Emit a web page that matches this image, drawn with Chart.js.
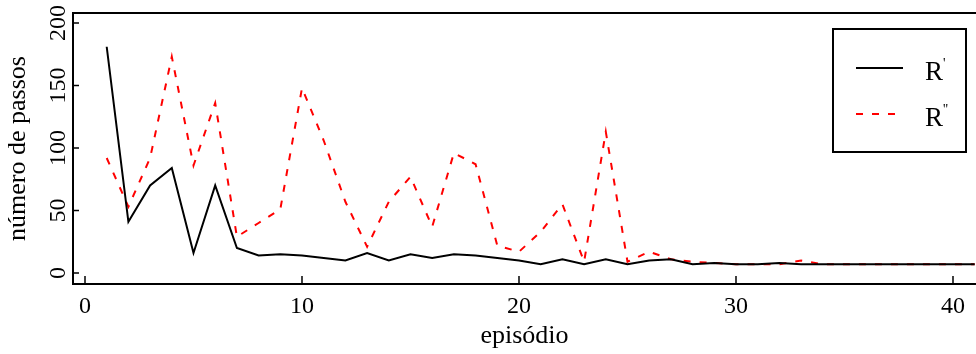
<!DOCTYPE html>
<html>
<head>
<meta charset="utf-8">
<script src="https://cdn.jsdelivr.net/npm/chart.js@4/dist/chart.umd.min.js"></script>
<style>
  html, body { margin: 0; padding: 0; background: #fff; }
  #wrap { width: 976px; height: 354px; }
</style>
</head>
<body>
<div id="wrap"><canvas id="passos-chart" width="976" height="354"></canvas></div>
<script>
// episodes and number of steps for each policy
const episodes = [1, 2, 3, 4, 5, 6, 7, 8, 9, 10,
                  11, 12, 13, 14, 15, 16, 17, 18, 19, 20,
                  21, 22, 23, 24, 25, 26, 27, 28, 29, 30,
                  31, 32, 33, 34, 35, 36, 37, 38, 39, 40, 41];
const stepsR1 = [181, 41, 70, 84, 16, 70, 20, 14, 15, 14,
                 12, 10, 16, 10, 15, 12, 15, 14, 12, 10,
                 7, 11, 7, 11, 7, 10, 11, 7, 8, 7,
                 7, 8, 7, 7, 7, 7, 7, 7, 7, 7, 7];
const stepsR2 = [92, 53, 92, 173, 86, 136, 29, 40, 51, 148,
                 106, 57, 21, 57, 77, 37, 96, 87, 22, 17,
                 33, 55, 9, 113, 9, 17, 11, 9, 8, 7,
                 7, 7, 10, 7, 7, 7, 7, 7, 7, 7, 7];
const seriesLabels = ["R'", "R''"];
const xTicks = [0, 10, 20, 30, 40];
const yTicks = [0, 50, 100, 150, 200];

const serif = '"Liberation Serif", "Times New Roman", serif';

function toPoints(values) {
    return episodes.map((ep, i) => ({ x: ep, y: values[i] }));
}

// frame top line, inward ticks, rotated y labels and the legend box
const framePlugin = {
    id: 'framePlugin',
    afterDraw(chart) {
        const ctx = chart.ctx;
        const area = chart.chartArea;
        const xs = chart.scales.x;
        const ys = chart.scales.y;
        ctx.save();
        ctx.strokeStyle = '#000';
        ctx.lineWidth = 2;
        ctx.beginPath();
        ctx.moveTo(area.left - 1, area.top);
        ctx.lineTo(area.right, area.top);
        ctx.stroke();

        ctx.lineWidth = 1.5;
        xTicks.forEach(v => {
            const px = xs.getPixelForValue(v);
            ctx.beginPath();
            ctx.moveTo(px, area.bottom);
            ctx.lineTo(px, area.bottom - 8);
            ctx.stroke();
        });
        yTicks.forEach(v => {
            const py = ys.getPixelForValue(v);
            ctx.beginPath();
            ctx.moveTo(area.left, py);
            ctx.lineTo(area.left + 6, py);
            ctx.stroke();
        });

        ctx.fillStyle = '#000';
        ctx.font = '24px ' + serif;
        ctx.textAlign = 'center';
        ctx.textBaseline = 'alphabetic';
        yTicks.forEach(v => {
            ctx.save();
            ctx.translate(area.left - 8, ys.getPixelForValue(v));
            ctx.rotate(-Math.PI / 2);
            ctx.fillText(String(v), 0, 0);
            ctx.restore();
        });

        // legend
        ctx.lineWidth = 2;
        ctx.strokeRect(833, 29, 133, 123);
        chart.data.datasets.forEach((ds, i) => {
            const y = 68 + i * 46;
            ctx.save();
            ctx.strokeStyle = ds.borderColor;
            ctx.lineWidth = ds.borderWidth;
            ctx.setLineDash(ds.borderDash || []);
            ctx.beginPath();
            ctx.moveTo(856, y);
            ctx.lineTo(i === 0 ? 903 : 896, y);
            ctx.stroke();
            ctx.restore();
            ctx.textAlign = 'left';
            ctx.font = '27px ' + serif;
            ctx.fillText(ds.label.charAt(0), 925, y + 12);
            ctx.font = '14px ' + serif;
            ctx.fillText(ds.label.slice(1), 943, y);
        });
        ctx.restore();
    }
};

function renderChart() {
    new Chart(document.getElementById('passos-chart'), {
        type: 'line',
        data: {
            datasets: [{
                label: seriesLabels[0],
                data: toPoints(stepsR1),
                borderColor: '#000000',
                borderWidth: 2,
                pointRadius: 0,
                tension: 0,
                fill: false
            }, {
                label: seriesLabels[1],
                data: toPoints(stepsR2),
                borderColor: '#ff0000',
                borderWidth: 2,
                borderDash: [7, 9],
                pointRadius: 0,
                tension: 0,
                fill: false
            }]
        },
        options: {
            responsive: false,
            devicePixelRatio: 1,
            animation: false,
            layout: { padding: { top: 13, left: 0, right: 0, bottom: 0 } },
            plugins: {
                legend: { display: false },
                tooltip: { enabled: false }
            },
            scales: {
                x: {
                    type: 'linear',
                    min: -0.553,
                    max: 41.06,
                    afterBuildTicks: s => { s.ticks = xTicks.map(v => ({ value: v })); },
                    afterFit: s => { s.height = 70; },
                    grid: { display: false },
                    border: { display: true, color: '#000', width: 2 },
                    ticks: {
                        color: '#000',
                        maxRotation: 0,
                        padding: 0,
                        font: { family: serif, size: 24 }
                    },
                    title: {
                        display: true,
                        text: 'episódio',
                        color: '#000',
                        font: { family: serif, size: 26 },
                        padding: { top: 0, bottom: 2 }
                    }
                },
                y: {
                    type: 'linear',
                    min: -8.8,
                    max: 208,
                    afterBuildTicks: s => { s.ticks = yTicks.map(v => ({ value: v })); },
                    afterFit: s => { s.width = 73; },
                    grid: { display: false },
                    border: { display: true, color: '#000', width: 2 },
                    ticks: { display: false },
                    title: {
                        display: true,
                        text: 'número de passos',
                        color: '#000',
                        font: { family: serif, size: 26 },
                        padding: { top: 3, bottom: 0 }
                    }
                }
            }
        },
        plugins: [framePlugin]
    });
}

Promise.all([
    document.fonts.load('24px "Liberation Serif"'),
    document.fonts.load('27px "Liberation Serif"')
]).then(renderChart, renderChart);
</script>
</body>
</html>
